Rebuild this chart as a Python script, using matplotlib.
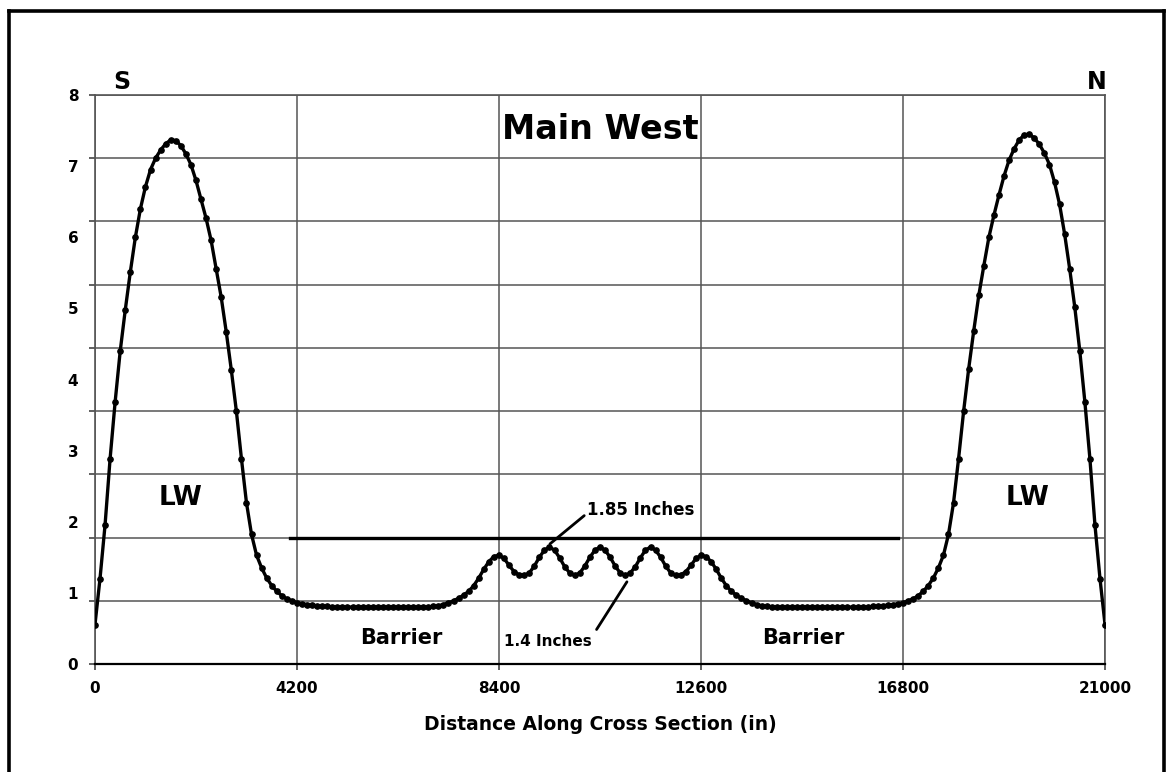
import matplotlib.pyplot as plt
import numpy as np
from matplotlib.lines import Line2D

plt.rcParams['font.family'] = ['DejaVu Sans']
plt.rcParams['font.weight'] = 'bold'

# sampling positions along the cross section (in), every 105 in
dist = np.arange(0, 21001, 105)

# roof-to-floor closure (in) at each position
closure = [
    0.62, 1.35, 2.2, 3.25, 4.15, 4.95, 5.6, 6.2, 6.75, 7.2,
    7.55, 7.82, 8.0, 8.13, 8.23, 8.29, 8.28, 8.2, 8.07, 7.9,
    7.65, 7.35, 7.05, 6.7, 6.25, 5.8, 5.25, 4.65, 4.0, 3.25,
    2.55, 2.05, 1.72, 1.52, 1.36, 1.24, 1.15, 1.08, 1.03, 1.0,
    0.97, 0.95, 0.94, 0.93, 0.92, 0.91, 0.91, 0.9, 0.9, 0.9,
    0.9, 0.9, 0.9, 0.9, 0.9, 0.9, 0.9, 0.9, 0.9, 0.9,
    0.9, 0.9, 0.9, 0.9, 0.9, 0.9, 0.9, 0.91, 0.92, 0.94,
    0.97, 1.0, 1.04, 1.09, 1.15, 1.24, 1.36, 1.5, 1.62, 1.7,
    1.72, 1.67, 1.56, 1.46, 1.41, 1.4, 1.44, 1.55, 1.69, 1.8,
    1.85, 1.8, 1.68, 1.54, 1.44, 1.4, 1.44, 1.55, 1.69, 1.8,
    1.85,
    1.8, 1.69, 1.55, 1.44, 1.4, 1.44, 1.54, 1.68, 1.8, 1.85,
    1.8, 1.69, 1.55, 1.44, 1.4, 1.41, 1.46, 1.56, 1.67, 1.72,
    1.7, 1.62, 1.5, 1.36, 1.24, 1.15, 1.09, 1.04, 1.0, 0.97,
    0.94, 0.92, 0.91, 0.9, 0.9, 0.9, 0.9, 0.9, 0.9, 0.9,
    0.9, 0.9, 0.9, 0.9, 0.9, 0.9, 0.9, 0.9, 0.9, 0.9,
    0.9, 0.9, 0.9, 0.91, 0.91, 0.92, 0.93, 0.94, 0.95, 0.97,
    1.0, 1.03, 1.08, 1.15, 1.24, 1.36, 1.52, 1.72, 2.05, 2.55,
    3.25, 4.0, 4.67, 5.27, 5.83, 6.3, 6.75, 7.1, 7.42, 7.72,
    7.97, 8.15, 8.29, 8.37, 8.38, 8.32, 8.22, 8.08, 7.9, 7.62,
    7.27, 6.8, 6.25, 5.65, 4.95, 4.15, 3.25, 2.2, 1.35, 0.62,
]

# reference level across the barrier pillars
level_x = [4050, 16700]
level_y = [2.0, 2.0]

x_ticks = [0, 4200, 8400, 12600, 16800, 21000]
y_labels = ['0', '1', '2', '3', '4', '5', '6', '7', '8']

fig = plt.figure(figsize=(11.68, 7.72), dpi=100)
ax = fig.add_axes([0.0813, 0.1399, 0.8648, 0.7370])

ax.plot(dist, closure, color='black', lw=2.4, marker='o', ms=3.8, zorder=3)
ax.plot(level_x, level_y, color='black', lw=2.4, zorder=3)

ax.set_xlim(0, 21000)
ax.set_ylim(0, 9)

ax.set_xticks(x_ticks)
ax.set_xticklabels([str(v) for v in x_ticks], fontsize=11, fontweight='bold')
ax.tick_params(axis='x', length=4, width=1.2, color='#444', pad=8)

# grid rows every unit, labels spread over the full height
ax.yaxis.remove_overlapping_locs = False
ax.set_yticks(range(10))
ax.set_yticklabels([])
ax.tick_params(axis='y', which='major', length=4, width=1.2, color='#444')
ax.set_yticks(np.linspace(0, 9, 9), minor=True)
ax.set_yticklabels(y_labels, minor=True, fontsize=11, fontweight='bold')
ax.tick_params(axis='y', which='minor', length=0, pad=12)

ax.grid(which='major', color='#555', lw=1.1)
ax.set_axisbelow(True)
for side in ['left', 'top', 'right']:
    ax.spines[side].set_color('#555')
    ax.spines[side].set_linewidth(1.2)
ax.spines['bottom'].set_color('black')
ax.spines['bottom'].set_linewidth(1.6)

ax.text(10500, 8.45, 'Main West', ha='center', va='center', fontsize=24, fontweight='bold')
ax.text(561, 9.2, 'S', ha='center', va='center', fontsize=17, fontweight='bold')
ax.text(20830, 9.2, 'N', ha='center', va='center', fontsize=17, fontweight='bold')
ax.text(1790, 2.63, 'LW', ha='center', va='center', fontsize=19, fontweight='bold')
ax.text(19390, 2.63, 'LW', ha='center', va='center', fontsize=19, fontweight='bold')
ax.text(6360, 0.41, 'Barrier', ha='center', va='center', fontsize=15, fontweight='bold')
ax.text(14720, 0.41, 'Barrier', ha='center', va='center', fontsize=15, fontweight='bold')

ax.annotate('1.85 Inches', xy=(9460, 1.9), xytext=(10230, 2.44),
            ha='left', va='center', fontsize=12, fontweight='bold',
            arrowprops=dict(arrowstyle='-', color='black', lw=2,
                            shrinkA=0, shrinkB=0, relpos=(0, 0.3)))
ax.annotate('1.4 Inches', xy=(11060, 1.3), xytext=(8500, 0.35),
            ha='left', va='center', fontsize=11, fontweight='bold',
            arrowprops=dict(arrowstyle='-', color='black', lw=2,
                            shrinkA=3, shrinkB=0, relpos=(1.0, 0.8)))

fig.text(600 / 1168, 1 - 724 / 772, 'Distance Along Cross Section (in)',
         ha='center', va='center', fontsize=13.5, fontweight='bold')

# outer frame: left, top and right edges
top = 1 - 11 / 772
x_left, x_right = 9 / 1168, 1164 / 1168
for xs, ys in [([x_left, x_left], [0, top]),
               ([x_left, x_right], [top, top]),
               ([x_right, x_right], [0, top])]:
    fig.add_artist(Line2D(xs, ys, transform=fig.transFigure, color='black', lw=2.6))

fig.savefig('out.png', dpi=100)
